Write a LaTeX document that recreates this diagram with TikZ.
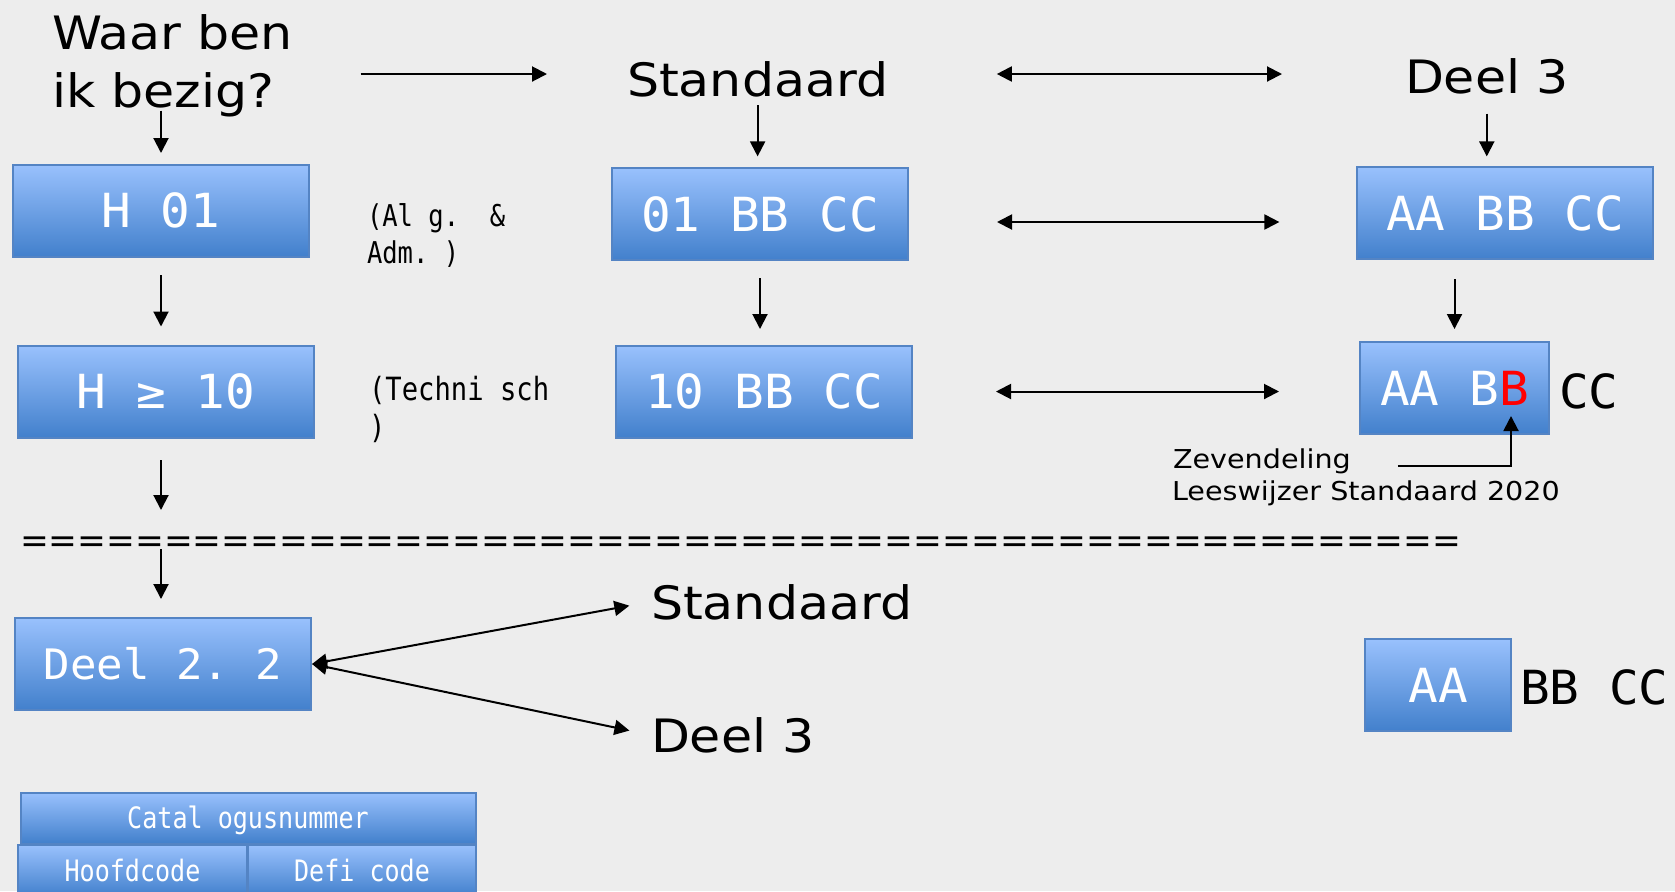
\documentclass[tikz,border=0pt]{standalone}
\usepackage{fontspec}
\usetikzlibrary{arrows.meta}
\newfontfamily\labfont{DejaVu Sans}[FakeStretch=1.1]
\newfontfamily\eqfont{DejaVu Sans}
\newfontfamily\boxfont{DejaVu Sans Mono}[FakeStretch=1.05]
\newfontfamily\notefont{DejaVu Sans Mono}[FakeStretch=0.85]
\definecolor{bgcol}{RGB}{237,237,237}
\definecolor{boxtop}{RGB}{153,193,253}
\definecolor{boxbot}{RGB}{66,128,204}
\definecolor{boxline}{RGB}{84,132,196}

\begin{document}
\begin{tikzpicture}[x=0.5pt,y=-0.5pt,line width=1pt,
    >={Triangle[length=7.5pt,width=7.5pt]},
    codebox/.style={draw=boxline,top color=boxtop,bottom color=boxbot,
      text=white,inner sep=0pt,minimum width=148pt,minimum height=46pt,
      font=\boxfont\fontsize{23.5}{28}\selectfont,
      text height=17.1pt,text depth=0pt},
    smallbox/.style={codebox,minimum height=25.5pt,
      font=\notefont\fontsize{14.75}{18}\selectfont,text height=10.75pt},
    biglabel/.style={inner sep=0pt,font=\labfont\fontsize{23}{29}\selectfont},
    note/.style={inner sep=0pt,align=left,anchor=north west}]
        \useasboundingbox (0,0) rectangle (1675,891);
        \clip (0,0) rectangle (1675,891);
        \fill[bgcol] (0,0) rectangle (1675,891);
        % top row of labels
        \node[biglabel,align=left,anchor=north west] (waar) at (51,14) {Waar ben\\ik bezig?};
        \node[biglabel,anchor=base west,text height=22pt,text depth=0pt] (std1) at (626,96) {Standaard};
        \node[biglabel,anchor=base west] (deel3a) at (1404,93) {Deel 3};
        % code boxes
        \node[codebox] (h01) at (161,210.5) {H 01};
        \node[codebox] (b01) at (760,214) {01 BB CC};
        \node[codebox] (bAA) at (1505,213) {AA BB CC};
        \node[codebox] (h10) at (166,391.5) {H ≥ 10};
        \node[codebox] (b10) at (764,391.5) {10 BB CC};
        \node[codebox,minimum width=94.5pt] (bAB) at (1454.5,388) {AA B\textcolor{red}{B}};
        \node[anchor=base west,inner sep=0pt,font=\boxfont\fontsize{23.5}{28}\selectfont] (cc) at (1558,408) {CC};
        \node[note,font=\notefont\fontsize{15}{18.5}\selectfont] (alg) at (366,203) {(Al~g.~~\&\\Adm.~)};
        \node[note,font=\notefont\fontsize{16}{19}\selectfont] (tech) at (368,375) {(Techni~sch\\)};
        \node[anchor=base west,inner sep=0pt,font=\labfont\fontsize{13}{16}\selectfont] (zev) at (1172,468) {Zevendeling};
        \node[anchor=base west,inner sep=0pt,font=\labfont\fontsize{13}{16}\selectfont] (lees) at (1171,500) {Leeswijzer Standaard 2020};
        % separator
        \node[anchor=base west,inner sep=0pt,font=\eqfont\fontsize{17.2}{20}\selectfont,
          text height=9pt,text depth=0pt] (sep) at (19,552) {==================================================};
        % lower part
        \node[codebox,font=\boxfont\fontsize{21}{25}\selectfont,text height=15.3pt] (d22) at (163,664) {Deel 2.~2};
        \node[biglabel,anchor=base west] (std2) at (650,619) {Standaard};
        \node[biglabel,anchor=base west] (deel3b) at (650,752) {Deel 3};
        \node[codebox,minimum width=73pt] (bA) at (1438,685) {AA};
        \node[anchor=base west,inner sep=0pt,font=\boxfont\fontsize{23.5}{28}\selectfont] (bbcc) at (1519,704) {BB CC};
        \node[smallbox,minimum width=227.5pt] (catal) at (248,818) {Catal~ogusnummer};
        \node[smallbox,minimum width=114.5pt] (hoofd) at (132.5,870.5) {Hoofdcode};
        \node[smallbox,minimum width=114pt] (defi) at (362,870.5) {Defi~code};
        % horizontal arrows
        \draw[->,shorten <=33.3pt,shorten >=39.5pt] (waar.east |- std1.west) -- (std1.west);
        \draw[<->,shorten <=53.8pt,shorten >=61pt] (std1.east) -- (std1.east -| deel3a.west);
        \coordinate (r2) at ([yshift=-4pt]b01.east);
        \draw[<->,shorten <=44pt,shorten >=38.3pt] (r2) -- (r2 -| bAA.west);
        \draw[<->,shorten <=41.5pt,shorten >=40pt] (b10.east) -- (b10.east -| bAB.west);
        % vertical arrows
        \draw[->,shorten <=-4pt,shorten >=5.25pt] (waar.south -| h01.north) -- (h01.north);
        \draw[->,shorten <=4pt,shorten >=5.3pt] (std1.south) -- (std1.south |- b01.north);
        \draw[->,shorten <=9.5pt,shorten >=4.8pt] (deel3a.south) -- (deel3a.south |- bAA.north);
        \draw[->,shorten <=8.8pt,shorten >=9pt] (h01.south) -- (h01.south |- h10.north);
        \draw[->,shorten <=8.7pt,shorten >=7.75pt] (b01.south) -- (b01.south |- b10.north);
        \draw[->,shorten <=9.5pt,shorten >=6pt] (bAB.north |- bAA.south) -- (bAB.north);
        \draw[->,shorten <=10.75pt,shorten >=11.5pt] (h01.south |- h10.south) -- (h01.south |- sep.north);
        \draw[->,shorten <=-2pt,shorten >=9pt] (h01.south |- sep.south) -- (h01.south |- d22.north);
        % pointer to the seventh digit
        \coordinate (bbtip) at (1511,416);
        \draw[->,shorten <=23pt] ([yshift=-2.5pt]zev.east) -| (bbtip);
        % Deel 2.2 to both parts
        \draw[<->,shorten >=10.5pt] (d22.east) -- (std2.west);
        \draw[<->,shorten >=10.5pt] (d22.east) -- (deel3b.west);
\end{tikzpicture}
\end{document}
